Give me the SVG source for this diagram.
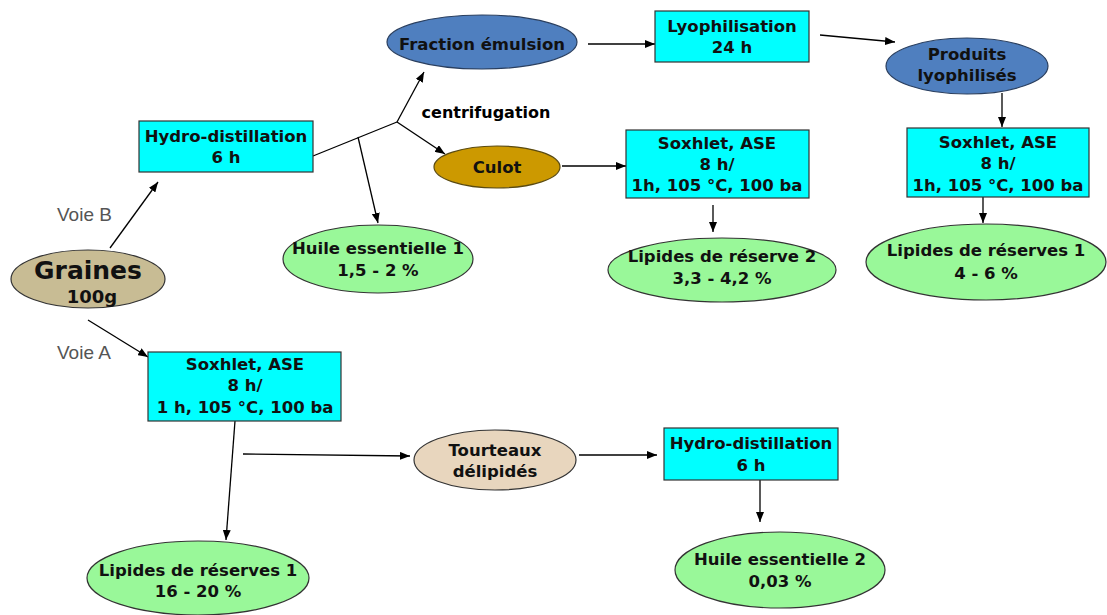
<svg xmlns="http://www.w3.org/2000/svg" width="1107" height="615" viewBox="0 0 1107 615">
<defs>
<marker id="ah" markerWidth="10" markerHeight="8" refX="10" refY="4" orient="auto" markerUnits="userSpaceOnUse">
<path d="M0,0 L10,4 L0,8 Z" fill="#000"/>
</marker>
<style>
.box{fill:#00ffff;stroke:#333;stroke-width:1.2}
.green{fill:#99f899;stroke:#333;stroke-width:1.2}
.blue{fill:#4f7fbf;stroke:#2a3f5f;stroke-width:1.2}
.t{font-family:"DejaVu Sans",sans-serif;font-size:16.5px;font-weight:bold;fill:#111;text-anchor:middle;dominant-baseline:central}
.lbl{font-family:"Liberation Sans",Arial,sans-serif;font-size:19px;fill:#555;dominant-baseline:central}
.c line,.c polyline{stroke:#000;stroke-width:1.3;fill:none}
</style>
</defs>
<rect width="1107" height="615" fill="#fff"/>
<g class="c" id="connectors">
<line x1="110" y1="248" x2="158" y2="182" marker-end="url(#ah)"/>
<polyline points="313,156 397,122"/>
<line x1="397" y1="122" x2="424" y2="72" marker-end="url(#ah)"/>
<line x1="397" y1="122" x2="445" y2="154" marker-end="url(#ah)"/>
<line x1="358" y1="137" x2="378" y2="223" marker-end="url(#ah)"/>
<line x1="588" y1="44" x2="655" y2="44" marker-end="url(#ah)"/>
<line x1="820" y1="35" x2="895" y2="42" marker-end="url(#ah)"/>
<line x1="562" y1="166" x2="626" y2="166" marker-end="url(#ah)"/>
<line x1="713" y1="205" x2="713" y2="232" marker-end="url(#ah)"/>
<line x1="1002" y1="93" x2="1002" y2="127" marker-end="url(#ah)"/>
<line x1="983" y1="197" x2="983" y2="223" marker-end="url(#ah)"/>
<line x1="88" y1="320" x2="148" y2="357" marker-end="url(#ah)"/>
<line x1="235" y1="421" x2="226" y2="540" marker-end="url(#ah)"/>
<line x1="243" y1="454" x2="410" y2="456" marker-end="url(#ah)"/>
<line x1="579" y1="455" x2="657" y2="455" marker-end="url(#ah)"/>
<line x1="760" y1="480" x2="760" y2="522" marker-end="url(#ah)"/>
</g>
<g id="labels">
<text class="lbl" x="57" y="214">Voie B</text>
<text class="lbl" x="57" y="352">Voie A</text>
<text class="t" x="486" y="112" style="font-size:16px;font-weight:900;fill:#000">centrifugation</text>
</g>
<g id="graines">
<ellipse cx="88" cy="279" rx="77" ry="29" fill="#c8bc94" stroke="#333" stroke-width="1.2"/>
<text class="t" x="88" y="270" style="font-size:25px">Graines</text>
<text class="t" x="92" y="296" style="font-size:18px">100g</text>
</g>
<g id="hydro1">
<rect class="box" x="139" y="121" width="174" height="51"/>
<text class="t" x="226" y="136">Hydro-distillation</text>
<text class="t" x="226" y="157">6 h</text>
</g>
<g id="huile1">
<ellipse class="green" cx="378" cy="259" rx="95" ry="34"/>
<text class="t" x="378" y="248">Huile essentielle 1</text>
<text class="t" x="378" y="270">1,5 - 2 %</text>
</g>
<g id="fraction">
<ellipse class="blue" cx="482" cy="42" rx="95" ry="27"/>
<text class="t" x="482" y="44">Fraction émulsion</text>
</g>
<g id="lyophilisation">
<rect class="box" x="655" y="11" width="154" height="51"/>
<text class="t" x="732" y="26">Lyophilisation</text>
<text class="t" x="732" y="47">24 h</text>
</g>
<g id="produits">
<ellipse class="blue" cx="967" cy="66" rx="81" ry="28"/>
<text class="t" x="967" y="54">Produits</text>
<text class="t" x="967" y="75">lyophilisés</text>
</g>
<g id="culot">
<ellipse cx="497" cy="167" rx="63" ry="21" fill="#cc9900" stroke="#5a4a10" stroke-width="1.2"/>
<text class="t" x="497" y="167">Culot</text>
</g>
<g id="soxhlet2">
<rect class="box" x="626" y="130" width="183" height="68"/>
<text class="t" x="717" y="143">Soxhlet, ASE</text>
<text class="t" x="717" y="164">8 h/</text>
<text class="t" x="717" y="185">1h, 105 °C, 100 ba</text>
</g>
<g id="lipides2">
<ellipse class="green" cx="722" cy="270" rx="114" ry="32"/>
<text class="t" x="722" y="256">Lipides de réserve 2</text>
<text class="t" x="722" y="278">3,3 - 4,2 %</text>
</g>
<g id="soxhlet3">
<rect class="box" x="907" y="128" width="182" height="69"/>
<text class="t" x="998" y="142">Soxhlet, ASE</text>
<text class="t" x="998" y="163">8 h/</text>
<text class="t" x="998" y="185">1h, 105 °C, 100 ba</text>
</g>
<g id="lipides1b">
<ellipse class="green" cx="986" cy="262" rx="120" ry="38"/>
<text class="t" x="986" y="250">Lipides de réserves 1</text>
<text class="t" x="986" y="273">4 - 6  %</text>
</g>
<g id="soxhlet1">
<rect class="box" x="148" y="352" width="193" height="69"/>
<text class="t" x="245" y="364">Soxhlet, ASE</text>
<text class="t" x="245" y="385">8 h/</text>
<text class="t" x="245" y="407">1 h, 105 °C, 100 ba</text>
</g>
<g id="lipides1">
<ellipse class="green" cx="198" cy="578" rx="111" ry="37"/>
<text class="t" x="198" y="570">Lipides de réserves 1</text>
<text class="t" x="198" y="591">16 - 20 %</text>
</g>
<g id="tourteaux">
<ellipse cx="495" cy="460" rx="81" ry="30" fill="#e8d6be" stroke="#333" stroke-width="1.2"/>
<text class="t" x="495" y="450">Tourteaux</text>
<text class="t" x="495" y="471">délipidés</text>
</g>
<g id="hydro2">
<rect class="box" x="664" y="428" width="174" height="52"/>
<text class="t" x="751" y="443">Hydro-distillation</text>
<text class="t" x="751" y="465">6 h</text>
</g>
<g id="huile2">
<ellipse class="green" cx="780" cy="570" rx="105" ry="38"/>
<text class="t" x="780" y="559">Huile essentielle 2</text>
<text class="t" x="780" y="581">0,03 %</text>
</g>
</svg>
